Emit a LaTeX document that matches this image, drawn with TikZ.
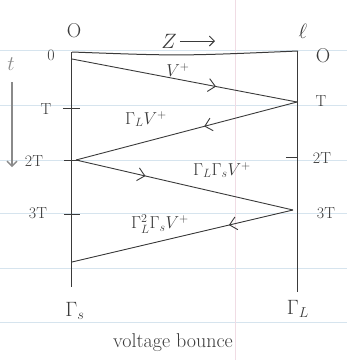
\documentclass[tikz,border=0pt]{standalone}
\usetikzlibrary{arrows.meta,decorations.markings}
\definecolor{ink}{HTML}{3A3A3A}
\definecolor{pale}{HTML}{8A8A8A}
\definecolor{rule}{HTML}{D6E4EE}
\definecolor{margin}{HTML}{F0DCE4}
\begin{document}
\begin{tikzpicture}[x=1pt,y=-1pt,
  wire/.style={draw=ink,line width=1pt},
  ray/.style={draw=ink,line width=0.9pt,postaction={decorate},
    decoration={markings,mark=at position #1 with {\arrow{Straight Barb[length=7pt,width=13pt,line width=0.9pt]}}}},
  lbl/.style={text=ink,font=\fontsize{20}{22}\selectfont,inner sep=0pt},
  small/.style={text=ink,font=\fontsize{16}{18}\selectfont,inner sep=0pt},
  wave/.style={text=ink,font=\fontsize{17}{19}\selectfont,inner sep=0pt},
  tick/.style={draw=ink,line width=0.9pt}]
\useasboundingbox (0,0) rectangle (347,360);
% notebook paper
\foreach \yy in {50,105,160,213,268,322} \draw[rule,line width=0.6pt] (0,\yy) -- (347,\yy);
\draw[margin,line width=0.6pt] (235,0) -- (235,360);
% frame
\coordinate (TL) at (72,52);
\coordinate (TR) at (298,51);
\coordinate (BL) at (72,287);
\coordinate (BR) at (298,292);
\draw[wire] (TL) -- (BL);
\draw[wire] (TR) -- (BR);
\draw[wire] (TL) .. controls (180,56) .. (TR);
% bounce points
\coordinate (p0) at (72,59);
\coordinate (p1) at (297,102);
\coordinate (p2) at (76,160);
\coordinate (p3) at (293,210);
\coordinate (p4) at (72,262);
\draw[ray=0.64] (p0) -- (p1);
\draw[ray=0.42] (p1) -- (p2);
\draw[ray=0.32] (p2) -- (p3);
\draw[ray=0.29] (p3) -- (p4);
% ticks
\draw[tick] (63,108) -- (80,108);
\draw[tick] (64,160) -- (80,160);
\draw[tick] (64,214) -- (80,214);
\draw[tick] (286,157) -- (298,157);
% top labels
\node[lbl] (o1) at (74,31) {O};
\node[lbl] (ell) at (303,31) {$\ell$};
\node[lbl] (z) at (169,41) {$Z$};
\coordinate (za) at (180,41);
\coordinate (zb) at (215,41);
\draw[ink,line width=0.9pt,-{Straight Barb[length=5pt,width=10pt]}] (za) -- (zb);
% time axis
\node[text=pale,font=\fontsize{20}{22}\selectfont,inner sep=0pt] (t) at (11,64) {$t$};
\coordinate (ta) at (12,82);
\coordinate (tb) at (12,167);
\draw[pale,line width=1.4pt,-{Straight Barb[length=5pt,width=10pt]}] (ta) -- (tb);
% left time labels
\node[small] (l0) at (51,55) {0};
\node[small] (lT) at (46,109) {T};
\node[small] (l2T) at (34,161) {2T};
\node[small] (l3T) at (38,213) {3T};
% right time labels
\node[lbl] (r0) at (323,56) {O};
\node[small] (rT) at (321,101) {T};
\node[small] (r2T) at (322,158) {2T};
\node[small] (r3T) at (326,213) {3T};
% wave labels
\node[wave] (v1) at (178,70) {$V^{+}$};
\node[wave] (v2) at (146,119) {$\Gamma_{L}V^{+}$};
\node[wave] (v3) at (222,170) {$\Gamma_{L}\Gamma_{s}V^{+}$};
\node[wave] (v4) at (160,224) {$\Gamma_{L}^{2}\Gamma_{s}V^{+}$};
% reflection coefficients
\node[lbl] (gs) at (75,311) {$\Gamma_{s}$};
\node[lbl] (gl) at (298,309) {$\Gamma_{L}$};
\node[lbl] (title) at (173,343) {voltage bounce};
\end{tikzpicture}
\end{document}
